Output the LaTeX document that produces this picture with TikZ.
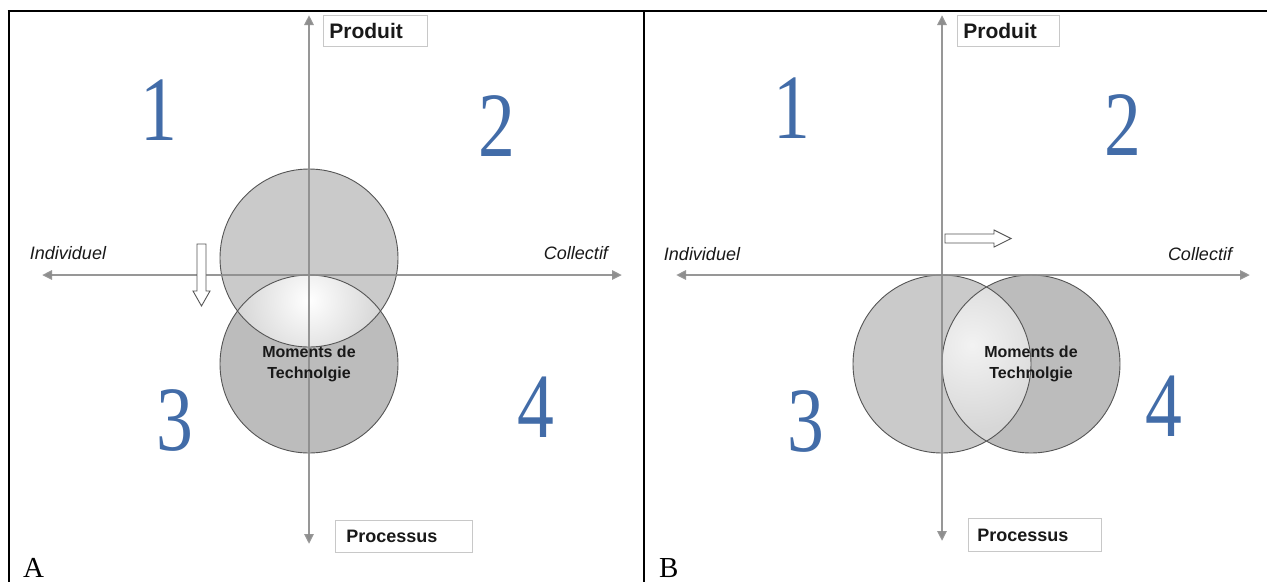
\documentclass[tikz,border=0pt]{standalone}
\usepackage{fontspec}
\setmainfont{Liberation Serif}
\newfontfamily\arialf{Liberation Sans}
\usetikzlibrary{arrows.meta}
\definecolor{circA}{RGB}{202,202,202}
\definecolor{circB}{RGB}{188,188,188}
\definecolor{lensedge}{RGB}{215,215,215}
\definecolor{axisgray}{RGB}{140,140,140}
\definecolor{digitblue}{RGB}{66,108,168}
\definecolor{outl}{RGB}{85,85,85}
\definecolor{boxgray}{RGB}{200,200,200}
\definecolor{txt}{RGB}{25,25,25}
\begin{document}
\begin{tikzpicture}[x=1pt,y=-1pt,
  axisline/.style={draw=axisgray, line width=2.5pt, opacity=0.9,
    {Triangle[length=10pt,width=9pt]}-{Triangle[length=10pt,width=9pt]}},
  circline/.style={draw=outl, line width=0.9pt},
  sidelbl/.style={font=\arialf\itshape\fontsize{18}{21}\selectfont, text=txt, inner sep=0pt},
  polelbl/.style={draw=boxgray, line width=0.8pt, fill=white, align=left,
    inner ysep=0pt, text=txt, anchor=north west},
  momlbl/.style={font=\arialf\bfseries\fontsize{16}{21}\selectfont, align=center, text=txt, inner sep=0pt},
  numlbl/.style={font=\fontsize{92}{92}\selectfont, text=digitblue, inner sep=0pt, xscale=0.8},
  blockarrow/.style={draw=outl, fill=white, line width=0.9pt, line join=miter},
  panellbl/.style={anchor=base west, font=\fontsize{29}{29}\selectfont, inner sep=0pt},
  framerule/.style={draw=black, line width=2pt}]
\useasboundingbox (0,0) rectangle (1267,582);
\fill[white] (0,0) rectangle (1267,582);

% ---------------- Panel A ----------------
\coordinate (cAtop) at (309,258);
\coordinate (cAbot) at (309,364);
\fill[circA] (cAtop) circle[radius=89pt];
\fill[circB] (cAbot) circle[radius=89pt];
\begin{scope}
  \clip (cAtop) circle[radius=89pt];
  \clip (cAbot) circle[radius=89pt];
  \fill[lensedge] (200,260) rectangle (420,360);
  \shade[inner color=white, outer color=lensedge] (309,300) circle[radius=70pt];
\end{scope}
\draw[circline] (cAtop) circle[radius=89pt];
\draw[circline] (cAbot) circle[radius=89pt];

\coordinate (vAtop) at (309,15);
\coordinate (vAbot) at (309,544);
\coordinate (hAleft) at (42,275);
\coordinate (hAright) at (622,275);
\draw[axisline] (vAtop) -- (vAbot);
\draw[axisline] (hAleft) -- (hAright);

\draw[blockarrow] (197,244) -- (206,244) -- (206,291) -- (210,291) -- (201.5,306)
  -- (193,291) -- (197,291) -- cycle;

\node[polelbl, text width=92pt, inner xsep=6pt, minimum height=31pt,
  font=\arialf\bfseries\fontsize{21}{24}\selectfont] (prodA) at (323,15) {Produit};
\node[polelbl, text width=115pt, inner xsep=11pt, minimum height=32pt,
  font=\arialf\bfseries\fontsize{18}{21}\selectfont] (procA) at (335,520) {Processus};
\node[sidelbl] (indA) at (68,253) {Individuel};
\node[sidelbl] (colA) at (576,253) {Collectif};
\node[momlbl] (momA) at (309,364) {Moments de\\Technolgie};

\node[numlbl] (n1A) at (159,110) {1};
\node[numlbl] (n2A) at (497,126) {2};
\node[numlbl] (n3A) at (175,420) {3};
\node[numlbl] (n4A) at (536,407) {4};

\node[panellbl] (labA) at (23,577) {A};

% ---------------- Panel B ----------------
\coordinate (cBleft) at (942,364);
\coordinate (cBright) at (1031,364);
\fill[circA] (cBleft) circle[radius=89pt];
\fill[circB] (cBright) circle[radius=89pt];
\begin{scope}
  \clip (cBleft) circle[radius=89pt];
  \clip (cBright) circle[radius=89pt];
  \fill[lensedge] (930,270) rectangle (1045,460);
  \shade[inner color=white!95!black, outer color=lensedge] (972,345) circle[radius=85pt];
\end{scope}
\draw[circline] (cBleft) circle[radius=89pt];
\draw[circline] (cBright) circle[radius=89pt];

\coordinate (vBtop) at (942,15);
\coordinate (vBbot) at (942,541);
\coordinate (hBleft) at (676,275);
\coordinate (hBright) at (1250,275);
\draw[axisline] (vBtop) -- (vBbot);
\draw[axisline] (hBleft) -- (hBright);

\draw[blockarrow] (945,234) -- (994,234) -- (994,230) -- (1011,238.5) -- (994,247)
  -- (994,243) -- (945,243) -- cycle;

\node[polelbl, text width=90pt, inner xsep=6pt, minimum height=31pt,
  font=\arialf\bfseries\fontsize{21}{24}\selectfont] (prodB) at (957,15) {Produit};
\node[polelbl, text width=115pt, inner xsep=9pt, minimum height=33pt,
  font=\arialf\bfseries\fontsize{18}{21}\selectfont] (procB) at (968,518) {Processus};
\node[sidelbl] (indB) at (702,254) {Individuel};
\node[sidelbl] (colB) at (1200,254) {Collectif};
\node[momlbl] (momB) at (1031,363.5) {Moments de\\Technolgie};

\node[numlbl] (n1B) at (792,108) {1};
\node[numlbl] (n2B) at (1123,125) {2};
\node[numlbl] (n3B) at (806,421) {3};
\node[numlbl] (n4B) at (1164,406) {4};

\node[panellbl] (labB) at (659,577) {B};

% ---------------- Frame ----------------
\draw[framerule] (7.5,11) -- (1267,11);
\draw[framerule] (8.5,10) -- (8.5,582);
\draw[framerule] (644,10) -- (644,582);
\end{tikzpicture}
\end{document}
